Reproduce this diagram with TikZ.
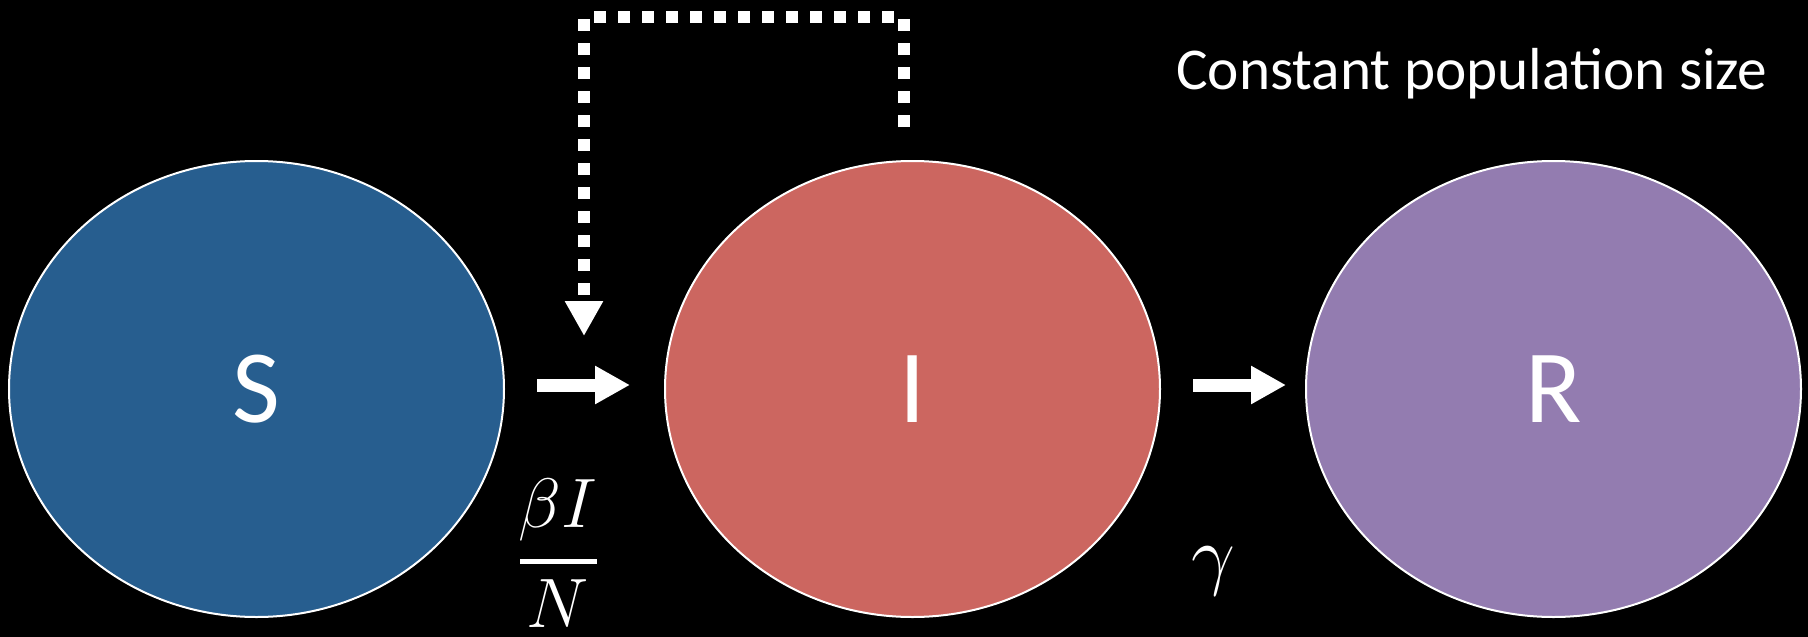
\RequirePackage{fix-cm}
\documentclass[tikz,border=0pt]{standalone}
\usepackage{fontspec}
\setmainfont{Carlito}
\usetikzlibrary{arrows.meta,shapes.geometric}
\definecolor{sblue}{RGB}{39,94,143}
\definecolor{ired}{RGB}{204,102,96}
\definecolor{rpurple}{RGB}{147,124,176}
\begin{document}
\begin{tikzpicture}[x=1pt,y=-1pt,
  comp/.style={ellipse, draw=white, line width=2pt, minimum width=495pt, minimum height=456pt, inner sep=0pt, text=white, font=\fontsize{104}{120}\selectfont},
  flow/.style={draw=white, line width=13pt, -{Triangle[length=35pt,width=36pt]}},
  fb/.style={draw=white, line width=12pt, dash pattern=on 12pt off 12pt, -{Triangle[length=35pt,width=36pt]}},
  lab/.style={text=white, inner sep=0pt, font=\fontsize{70}{84}\selectfont},
  title/.style={text=white, inner sep=0pt, font=\fontsize{59.3}{72}\selectfont}]
\fill[black] (0,0) rectangle (1808,637);
\useasboundingbox (0,0) rectangle (1808,637);
\node[comp, fill=sblue] (S) at (256.5,389) {S};
\node[comp, fill=ired] (I) at (912.5,389) {I};
\node[comp, fill=rpurple] (R) at (1553.5,389) {R};
\draw[flow, shorten <=32pt, shorten >=34pt] ([yshift=4pt]S.east) -- ([yshift=4pt]I.west);
\draw[flow, shorten <=32pt, shorten >=19pt] ([yshift=4pt]I.east) -- ([yshift=4pt]R.west);
\coordinate (fbR) at (904,17);
\coordinate (fbL) at (584,17);
\coordinate (fbEnd) at (584,336);
\draw[fb] ([xshift=-8.5pt,yshift=33pt]I.north) -- (fbR) -- (fbL) -- (fbEnd);
\node[lab, anchor=base] (num) at (558,527) {$\beta I$};
\draw[white, line width=5pt] (520,561) -- (597,561);
\node[lab, anchor=base] (den) at (558,627) {$N$};
\node[lab, font=\fontsize{78}{90}\selectfont] (gam) at (1213,571) {$\gamma$};
\node[title, anchor=base] (ttl) at (1472,89) {Constant population size};
\end{tikzpicture}
\end{document}
